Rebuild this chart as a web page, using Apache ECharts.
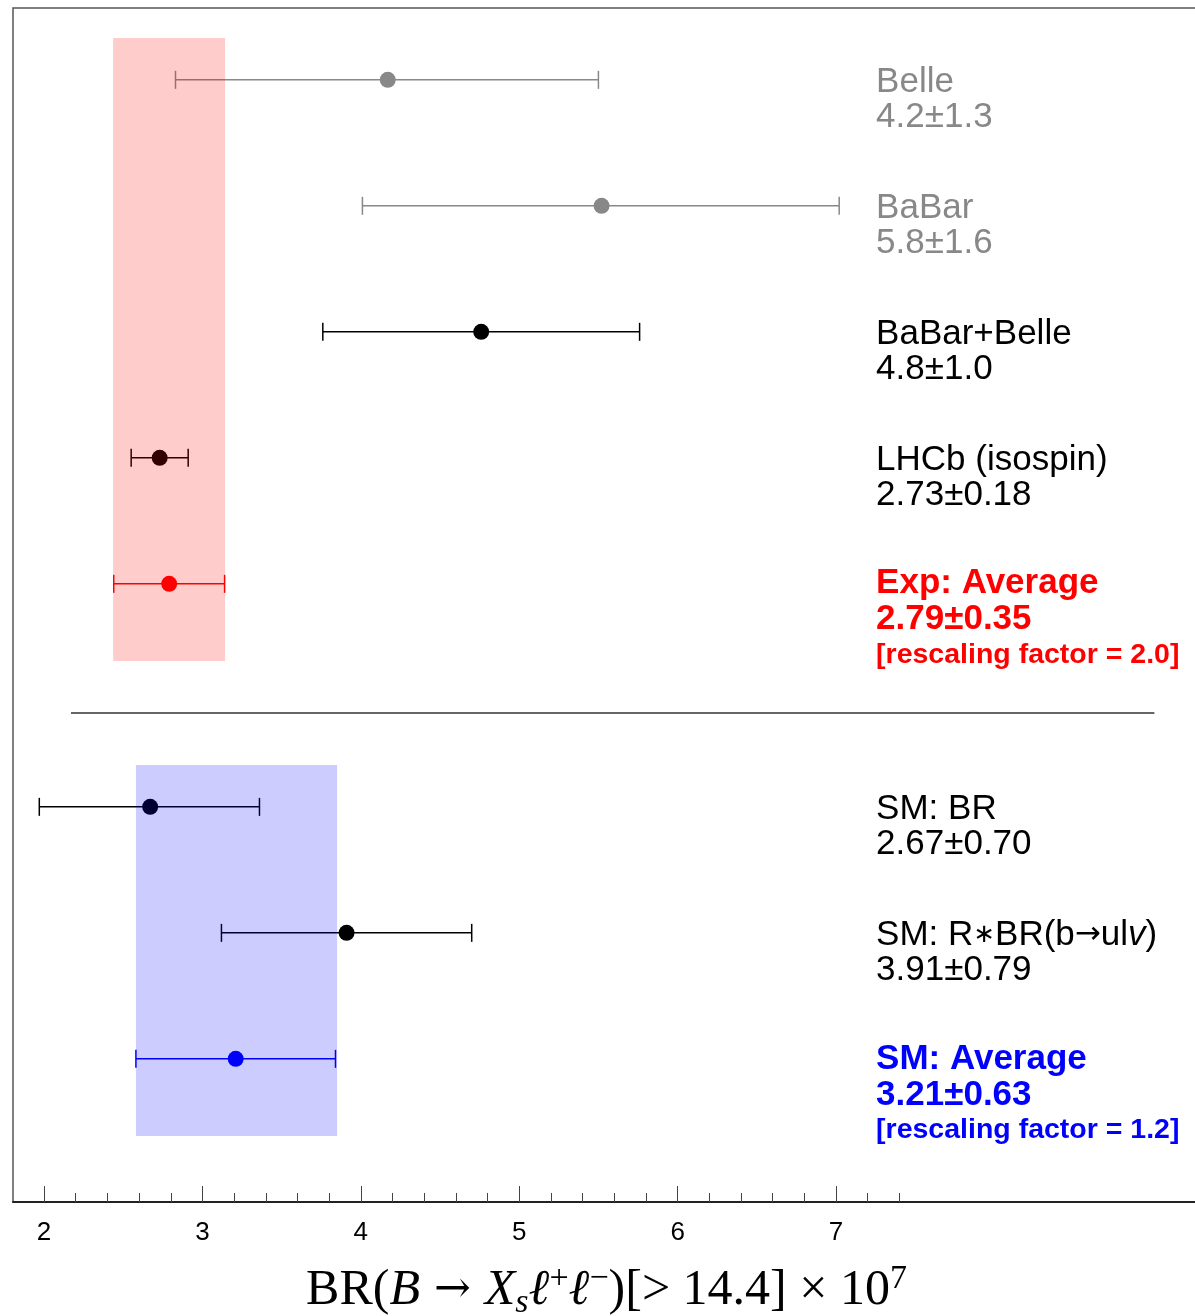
<!DOCTYPE html>
<html>
  <head>
    <meta charset="utf-8" />
    <title>BR(B → Xs ll)</title>
    <style>
      html, body { margin: 0; padding: 0; background: #fff; }
      #chart { width: 1195px; height: 1316px; }
    </style>
  </head>
  <body>
    <div id="chart"></div>
    <script src="https://cdn.jsdelivr.net/npm/echarts@6/dist/echarts.min.js"></script>
    <script type="text/javascript">
      // measurements, top to bottom
      const names = ["Belle", "BaBar", "BaBar+Belle", "LHCb (isospin)", "Exp: Average", "SM: BR", "SM: R∗BR(b→ulv)", "SM: Average"];
      const valueTexts = ["4.2±1.3", "5.8±1.6", "4.8±1.0", "2.73±0.18", "2.79±0.35", "2.67±0.70", "3.91±0.79", "3.21±0.63"];
      const notes = ["", "", "", "", "[rescaling factor = 2.0]", "", "", "[rescaling factor = 1.2]"];
      const centers = [4.17, 5.52, 4.76, 2.73, 2.79, 2.67, 3.91, 3.21];
      const lows = [2.83, 4.01, 3.76, 2.55, 2.44, 1.97, 3.12, 2.58];
      const highs = [5.5, 7.02, 5.76, 2.91, 3.14, 3.36, 4.7, 3.84];
      // row index on the (hidden) vertical axis
      const rows = [0.57, 1.57, 2.57, 3.57, 4.57, 6.34, 7.34, 8.34];

      // average bands: [low, high, top row, bottom row]
      const expBand = [2.436, 3.143, 0.238, 5.183];
      const smBand = [2.58, 3.85, 6.008, 8.952];
      const separator = [2.17, 9.01, 5.595];

      const majorTicks = [2, 3, 4, 5, 6, 7];
      const minorTicks = [2.2, 2.4, 2.6, 2.8, 3.2, 3.4, 3.6, 3.8, 4.2, 4.4, 4.6, 4.8,
        5.2, 5.4, 5.6, 5.8, 6.2, 6.4, 6.6, 6.8, 7.2, 7.4];
      const labelX = 7.253;

      const kinds = ["old", "old", "plain", "plain", "exp", "plain", "plain", "sm"];
      const colorOf = { old: "#888888", plain: "#000000", exp: "#ff0000", sm: "#0000ff" };

      const xMin = 1.804, xMax = 9.298, yMax = 9.476;

      const chart = echarts.init(document.getElementById("chart"));

      const barData = centers.map((c, i) => [c, lows[i], highs[i], rows[i]]);
      const labelData = rows.map((r, i) => {
        const avg = kinds[i] === "exp" || kinds[i] === "sm";
        return { value: [labelX, r], label: { position: [0, avg ? -18 : -15] } };
      });

      function labelText(i) {
        const k = kinds[i];
        if (k === "exp" || k === "sm") {
          const p = k === "exp" ? "r" : "b";
          return `{${p}t|${names[i]}}\n{${p}t|${valueTexts[i]}}\n{${p}n|${notes[i]}}`;
        }
        const s = k === "old" ? "g" : "k";
        let first = `{${s}|${names[i]}}`;
        if (names[i].indexOf("ulv") >= 0) {
          first = `{${s}|SM: R}{ks|∗}{${s}|BR(b}{ka|→}{${s}|ul}{ki|v}{${s}|)}`;
        }
        return `${first}\n{${s}|${valueTexts[i]}}`;
      }

      function bandItem(color) {
        return function (params, api) {
          const p0 = api.coord([api.value(0), api.value(2)]);
          const p1 = api.coord([api.value(1), api.value(3)]);
          return {
            type: "rect",
            shape: { x: p0[0], y: p0[1], width: p1[0] - p0[0], height: p1[1] - p0[1] },
            style: { fill: color, opacity: 0.2 },
          };
        };
      }

      const sans = "Liberation Sans, Arial, Helvetica, sans-serif";
      const serif = "Liberation Serif, Times New Roman, serif";

      const opt = {
        animation: false,
        grid: {
          left: 13,
          top: 8,
          right: -5,
          bottom: 114,
          outerBoundsMode: "none",
          containLabel: false,
          show: true,
          borderColor: "#555",
          borderWidth: 1.5,
        },
        xAxis: [
          {
            type: "value",
            position: "bottom",
            min: xMin,
            max: xMax,
            splitLine: { show: false },
            axisLine: { show: true, onZero: false, lineStyle: { color: "#222", width: 2 } },
            axisTick: { inside: true, length: 16, customValues: majorTicks, lineStyle: { color: "#444", width: 1 } },
            axisLabel: { customValues: majorTicks, fontFamily: sans, fontSize: 26, color: "#000", margin: 18 },
            name: "{n|BR(}{i|B}{a| → }{i|X}{sub|s}{i|ℓ}{sup|+}{i|ℓ}{sup|−}{n|)[> 14.4] × 10}{sup|7}",
            nameLocation: "middle",
            nameGap: 60,
            nameTextStyle: {
              rich: {
                n: { fontFamily: serif, fontSize: 50, color: "#000", lineHeight: 58 },
                a: { fontFamily: "DejaVu Serif", fontSize: 44, color: "#000", lineHeight: 58 },
                i: { fontFamily: serif, fontSize: 50, fontStyle: "italic", color: "#000", lineHeight: 58 },
                sub: { fontFamily: serif, fontSize: 34, fontStyle: "italic", color: "#000", lineHeight: 26, verticalAlign: "bottom" },
                sup: { fontFamily: serif, fontSize: 34, color: "#000", lineHeight: 28, verticalAlign: "top" },
              },
            },
          },
          {
            type: "value",
            position: "bottom",
            min: xMin,
            max: xMax,
            splitLine: { show: false },
            axisLine: { show: false, onZero: false },
            axisLabel: { show: false },
            axisTick: { inside: true, length: 9, customValues: minorTicks, lineStyle: { color: "#444", width: 1 } },
          },
        ],
        yAxis: {
          type: "value",
          inverse: true,
          min: 0,
          max: yMax,
          show: false,
        },
        series: [
          {
            type: "custom",
            name: "separator",
            renderItem: function (params, api) {
              const a = api.coord([api.value(0), api.value(2)]);
              const b = api.coord([api.value(1), api.value(2)]);
              return {
                type: "line",
                shape: { x1: a[0], y1: a[1], x2: b[0], y2: b[1] },
                style: { stroke: "#333", lineWidth: 1.5 },
              };
            },
            data: [separator],
            silent: true,
          },
          {
            type: "custom",
            name: "measurements",
            z: 2,
            renderItem: function (params, api) {
              const y = api.value(3);
              const c = api.coord([api.value(0), y]);
              const lo = api.coord([api.value(1), y]);
              const hi = api.coord([api.value(2), y]);
              const color = colorOf[kinds[params.dataIndex]];
              const st = { stroke: color, lineWidth: 1.5 };
              return {
                type: "group",
                children: [
                  { type: "line", shape: { x1: lo[0], y1: c[1], x2: hi[0], y2: c[1] }, style: st },
                  { type: "line", shape: { x1: lo[0], y1: c[1] - 9, x2: lo[0], y2: c[1] + 9 }, style: st },
                  { type: "line", shape: { x1: hi[0], y1: c[1] - 9, x2: hi[0], y2: c[1] + 9 }, style: st },
                  { type: "circle", shape: { cx: c[0], cy: c[1], r: 8 }, style: { fill: color } },
                ],
              };
            },
            data: barData,
          },
          {
            type: "custom",
            name: "exp band",
            z: 5,
            renderItem: bandItem("#ff0000"),
            data: [expBand],
            silent: true,
          },
          {
            type: "custom",
            name: "sm band",
            z: 5,
            renderItem: bandItem("#0000ff"),
            data: [smBand],
            silent: true,
          },
          {
            type: "scatter",
            name: "labels",
            symbolSize: 0,
            itemStyle: { opacity: 1 },
            data: labelData,
            silent: true,
            label: {
              show: true,
              position: [0, -15],
              align: "left",
              verticalAlign: "top",
              formatter: (p) => labelText(p.dataIndex),
              rich: {
                g: { fontFamily: sans, fontSize: 35, color: "#888888", lineHeight: 35 },
                k: { fontFamily: sans, fontSize: 35, color: "#000", lineHeight: 35 },
                ka: { fontFamily: "DejaVu Sans", fontSize: 31, color: "#000", lineHeight: 35 },
                ks: { fontFamily: "DejaVu Sans", fontSize: 26, color: "#000", lineHeight: 35 },
                ki: { fontFamily: sans, fontSize: 35, color: "#000", fontStyle: "italic", lineHeight: 35 },
                rt: { fontFamily: sans, fontSize: 35, fontWeight: "bold", color: "#ff0000", lineHeight: 36 },
                rn: { fontFamily: sans, fontSize: 28.5, fontWeight: "bold", color: "#ff0000", lineHeight: 34 },
                bt: { fontFamily: sans, fontSize: 35, fontWeight: "bold", color: "#0000ff", lineHeight: 36 },
                bn: { fontFamily: sans, fontSize: 28.5, fontWeight: "bold", color: "#0000ff", lineHeight: 34 },
              },
            },
          },
        ],
      };
      chart.setOption(opt);

      window.onresize = function () {
        chart.resize();
      };
    </script>
  </body>
</html>
